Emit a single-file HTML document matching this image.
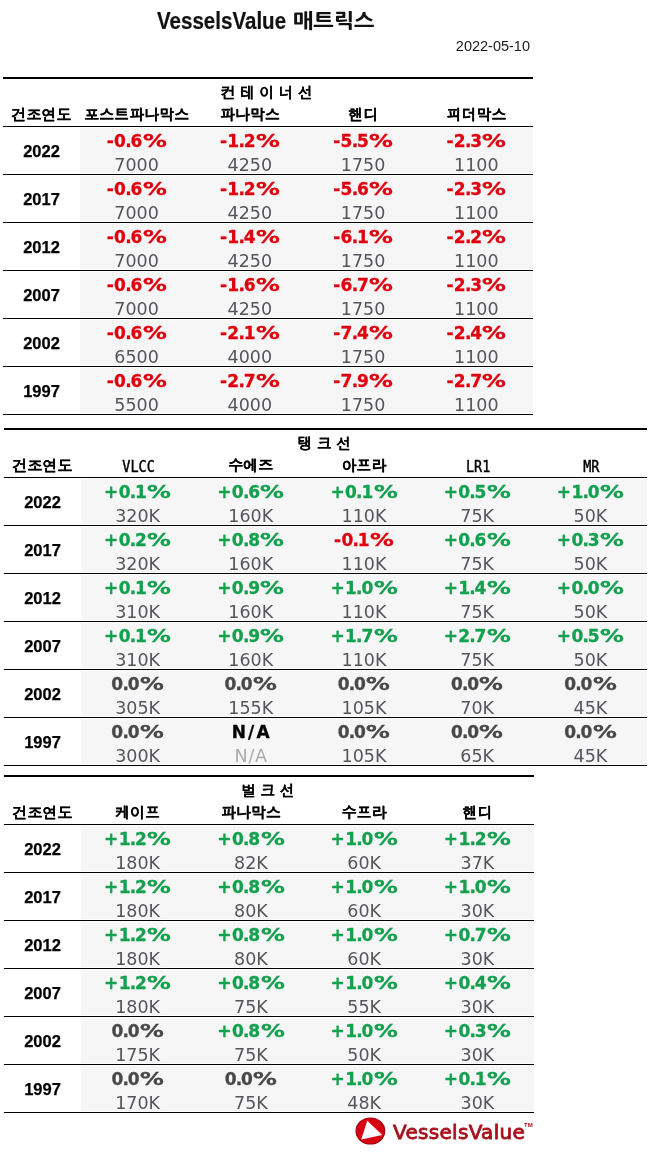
<!DOCTYPE html>
<html><head><meta charset="utf-8"><title>VesselsValue 매트릭스</title>
<style>
html,body{margin:0;padding:0;background:#fff;}
body{width:650px;height:1152px;position:relative;overflow:hidden;}
.title{position:absolute;left:0;top:6px;width:650px;height:30px;white-space:nowrap;color:#111;}
.title .l{position:absolute;left:157px;top:0;font:bold 23px/30px "Liberation Sans",sans-serif;transform:scaleX(0.893);transform-origin:0 0;-webkit-text-stroke:0.2px #111;}
.title .k{position:absolute;left:293px;top:0;transform:scaleX(1.085);transform-origin:0 0;font:800 20px/30px "NanumGothic","Noto Sans CJK KR",sans-serif;}
.date{position:absolute;right:120px;top:38px;font:14.5px/16px "Liberation Sans",sans-serif;color:#1a1a1a;}
.sec{position:absolute;height:338px;}
.thick{position:absolute;left:0;right:0;top:0;height:2px;background:#000;}
.stitle{position:absolute;left:2px;right:0;top:5px;text-align:center;font:bold 15px/20px "Dotum","NanumGothic","Noto Sans CJK KR",sans-serif;color:#000;-webkit-text-stroke:0.1px #000;}
.hrow{position:absolute;left:0;right:0;top:27px;height:20px;display:flex;font:bold 15px/20px "Dotum","NanumGothic","Noto Sans CJK KR",sans-serif;color:#000;-webkit-text-stroke:0.2px #000;}
.hy{width:77px;text-align:center;}
.lat{display:inline-block;position:relative;left:1px;font:13.5px/20px "DejaVu Sans Mono",monospace;transform:scaleY(1.22);-webkit-text-stroke:0.4px #000;}
.hc{text-align:center;}
.hline{position:absolute;left:0;right:0;top:49px;height:1px;background:#000;}
.row{position:absolute;left:0;right:0;height:48px;}
.yr{position:absolute;left:0;width:77px;top:2.5px;height:45px;text-align:center;font:bold 16.5px/45px "Liberation Sans",sans-serif;color:#000;-webkit-text-stroke:0.25px #000;}
.gray{position:absolute;left:77px;top:2px;height:45px;background:#f6f6f6;}
.cell{position:absolute;top:0;height:48px;text-align:center;}
.p{position:absolute;left:0;right:0;top:6px;font:bold 17px/18px "DejaVu Sans",sans-serif;letter-spacing:0.4px;-webkit-text-stroke:0.3px currentColor;}
.p .d{margin:0 -1.6px 0 -1.2px;}
.p .pc{display:inline-block;transform:scaleX(1.4);transform-origin:0 0;margin-right:6.5px;}
.v{position:absolute;left:0;right:0;top:29.5px;font:17.5px/18px "DejaVu Sans",sans-serif;}
.rline{position:absolute;left:0;right:0;top:48px;height:1px;background:#000;}
.logo{position:absolute;left:355px;top:1117px;width:180px;height:30px;}
.lt{position:absolute;left:38px;top:0;font:20px/30px "DejaVu Sans",sans-serif;color:#a8121c;-webkit-text-stroke:0.85px #a8121c;letter-spacing:0.3px;white-space:nowrap;}
.tm{position:absolute;left:169px;top:4px;font:bold 6px/8px "Liberation Sans",sans-serif;color:#a8121c;}
</style></head><body>
<div class="title"><span class="l">VesselsValue</span> <span class="k">매트릭스</span></div>
<div class="date">2022-05-10</div>
<div class="sec" style="left:3px;top:77px;width:530px">
<div class="thick"></div>
<div class="stitle" style="letter-spacing:4.2px">컨테이너선</div>
<div class="hrow"><div class="hy">건조연도</div><div class="hc" style="width:113.25px">포스트파나막스</div><div class="hc" style="width:113.25px">파나막스</div><div class="hc" style="width:113.25px">핸디</div><div class="hc" style="width:113.25px">피더막스</div></div>
<div class="hline"></div>
<div class="row" style="top:49px">
<div class="yr">2022</div>
<div class="gray" style="width:453px"></div>
<div class="cell" style="left:77px;width:113.25px"><div class="p" style="color:#e0000e">-0<span class="d">.</span>6<span class="pc">%</span></div><div class="v" style="color:#55555c">7000</div></div>
<div class="cell" style="left:190.25px;width:113.25px"><div class="p" style="color:#e0000e">-1<span class="d">.</span>2<span class="pc">%</span></div><div class="v" style="color:#55555c">4250</div></div>
<div class="cell" style="left:303.5px;width:113.25px"><div class="p" style="color:#e0000e">-5<span class="d">.</span>5<span class="pc">%</span></div><div class="v" style="color:#55555c">1750</div></div>
<div class="cell" style="left:416.75px;width:113.25px"><div class="p" style="color:#e0000e">-2<span class="d">.</span>3<span class="pc">%</span></div><div class="v" style="color:#55555c">1100</div></div>
<div class="rline"></div>
</div>
<div class="row" style="top:97px">
<div class="yr">2017</div>
<div class="gray" style="width:453px"></div>
<div class="cell" style="left:77px;width:113.25px"><div class="p" style="color:#e0000e">-0<span class="d">.</span>6<span class="pc">%</span></div><div class="v" style="color:#55555c">7000</div></div>
<div class="cell" style="left:190.25px;width:113.25px"><div class="p" style="color:#e0000e">-1<span class="d">.</span>2<span class="pc">%</span></div><div class="v" style="color:#55555c">4250</div></div>
<div class="cell" style="left:303.5px;width:113.25px"><div class="p" style="color:#e0000e">-5<span class="d">.</span>6<span class="pc">%</span></div><div class="v" style="color:#55555c">1750</div></div>
<div class="cell" style="left:416.75px;width:113.25px"><div class="p" style="color:#e0000e">-2<span class="d">.</span>3<span class="pc">%</span></div><div class="v" style="color:#55555c">1100</div></div>
<div class="rline"></div>
</div>
<div class="row" style="top:145px">
<div class="yr">2012</div>
<div class="gray" style="width:453px"></div>
<div class="cell" style="left:77px;width:113.25px"><div class="p" style="color:#e0000e">-0<span class="d">.</span>6<span class="pc">%</span></div><div class="v" style="color:#55555c">7000</div></div>
<div class="cell" style="left:190.25px;width:113.25px"><div class="p" style="color:#e0000e">-1<span class="d">.</span>4<span class="pc">%</span></div><div class="v" style="color:#55555c">4250</div></div>
<div class="cell" style="left:303.5px;width:113.25px"><div class="p" style="color:#e0000e">-6<span class="d">.</span>1<span class="pc">%</span></div><div class="v" style="color:#55555c">1750</div></div>
<div class="cell" style="left:416.75px;width:113.25px"><div class="p" style="color:#e0000e">-2<span class="d">.</span>2<span class="pc">%</span></div><div class="v" style="color:#55555c">1100</div></div>
<div class="rline"></div>
</div>
<div class="row" style="top:193px">
<div class="yr">2007</div>
<div class="gray" style="width:453px"></div>
<div class="cell" style="left:77px;width:113.25px"><div class="p" style="color:#e0000e">-0<span class="d">.</span>6<span class="pc">%</span></div><div class="v" style="color:#55555c">7000</div></div>
<div class="cell" style="left:190.25px;width:113.25px"><div class="p" style="color:#e0000e">-1<span class="d">.</span>6<span class="pc">%</span></div><div class="v" style="color:#55555c">4250</div></div>
<div class="cell" style="left:303.5px;width:113.25px"><div class="p" style="color:#e0000e">-6<span class="d">.</span>7<span class="pc">%</span></div><div class="v" style="color:#55555c">1750</div></div>
<div class="cell" style="left:416.75px;width:113.25px"><div class="p" style="color:#e0000e">-2<span class="d">.</span>3<span class="pc">%</span></div><div class="v" style="color:#55555c">1100</div></div>
<div class="rline"></div>
</div>
<div class="row" style="top:241px">
<div class="yr">2002</div>
<div class="gray" style="width:453px"></div>
<div class="cell" style="left:77px;width:113.25px"><div class="p" style="color:#e0000e">-0<span class="d">.</span>6<span class="pc">%</span></div><div class="v" style="color:#55555c">6500</div></div>
<div class="cell" style="left:190.25px;width:113.25px"><div class="p" style="color:#e0000e">-2<span class="d">.</span>1<span class="pc">%</span></div><div class="v" style="color:#55555c">4000</div></div>
<div class="cell" style="left:303.5px;width:113.25px"><div class="p" style="color:#e0000e">-7<span class="d">.</span>4<span class="pc">%</span></div><div class="v" style="color:#55555c">1750</div></div>
<div class="cell" style="left:416.75px;width:113.25px"><div class="p" style="color:#e0000e">-2<span class="d">.</span>4<span class="pc">%</span></div><div class="v" style="color:#55555c">1100</div></div>
<div class="rline"></div>
</div>
<div class="row" style="top:289px">
<div class="yr">1997</div>
<div class="gray" style="width:453px"></div>
<div class="cell" style="left:77px;width:113.25px"><div class="p" style="color:#e0000e">-0<span class="d">.</span>6<span class="pc">%</span></div><div class="v" style="color:#55555c">5500</div></div>
<div class="cell" style="left:190.25px;width:113.25px"><div class="p" style="color:#e0000e">-2<span class="d">.</span>7<span class="pc">%</span></div><div class="v" style="color:#55555c">4000</div></div>
<div class="cell" style="left:303.5px;width:113.25px"><div class="p" style="color:#e0000e">-7<span class="d">.</span>9<span class="pc">%</span></div><div class="v" style="color:#55555c">1750</div></div>
<div class="cell" style="left:416.75px;width:113.25px"><div class="p" style="color:#e0000e">-2<span class="d">.</span>7<span class="pc">%</span></div><div class="v" style="color:#55555c">1100</div></div>
<div class="rline"></div>
</div>
</div>
<div class="sec" style="left:4px;top:428px;width:643px">
<div class="thick"></div>
<div class="stitle" style="letter-spacing:4.2px">탱크선</div>
<div class="hrow"><div class="hy">건조연도</div><div class="hc" style="width:113.2px"><span class="lat">VLCC</span></div><div class="hc" style="width:113.2px">수에즈</div><div class="hc" style="width:113.2px">아프라</div><div class="hc" style="width:113.2px"><span class="lat">LR1</span></div><div class="hc" style="width:113.2px"><span class="lat">MR</span></div></div>
<div class="hline"></div>
<div class="row" style="top:49px">
<div class="yr">2022</div>
<div class="gray" style="width:566px"></div>
<div class="cell" style="left:77px;width:113.2px"><div class="p" style="color:#13a04f">+0<span class="d">.</span>1<span class="pc">%</span></div><div class="v" style="color:#55555c">320K</div></div>
<div class="cell" style="left:190.2px;width:113.2px"><div class="p" style="color:#13a04f">+0<span class="d">.</span>6<span class="pc">%</span></div><div class="v" style="color:#55555c">160K</div></div>
<div class="cell" style="left:303.4px;width:113.2px"><div class="p" style="color:#13a04f">+0<span class="d">.</span>1<span class="pc">%</span></div><div class="v" style="color:#55555c">110K</div></div>
<div class="cell" style="left:416.6px;width:113.2px"><div class="p" style="color:#13a04f">+0<span class="d">.</span>5<span class="pc">%</span></div><div class="v" style="color:#55555c">75K</div></div>
<div class="cell" style="left:529.8px;width:113.2px"><div class="p" style="color:#13a04f">+1<span class="d">.</span>0<span class="pc">%</span></div><div class="v" style="color:#55555c">50K</div></div>
<div class="rline"></div>
</div>
<div class="row" style="top:97px">
<div class="yr">2017</div>
<div class="gray" style="width:566px"></div>
<div class="cell" style="left:77px;width:113.2px"><div class="p" style="color:#13a04f">+0<span class="d">.</span>2<span class="pc">%</span></div><div class="v" style="color:#55555c">320K</div></div>
<div class="cell" style="left:190.2px;width:113.2px"><div class="p" style="color:#13a04f">+0<span class="d">.</span>8<span class="pc">%</span></div><div class="v" style="color:#55555c">160K</div></div>
<div class="cell" style="left:303.4px;width:113.2px"><div class="p" style="color:#e0000e">-0<span class="d">.</span>1<span class="pc">%</span></div><div class="v" style="color:#55555c">110K</div></div>
<div class="cell" style="left:416.6px;width:113.2px"><div class="p" style="color:#13a04f">+0<span class="d">.</span>6<span class="pc">%</span></div><div class="v" style="color:#55555c">75K</div></div>
<div class="cell" style="left:529.8px;width:113.2px"><div class="p" style="color:#13a04f">+0<span class="d">.</span>3<span class="pc">%</span></div><div class="v" style="color:#55555c">50K</div></div>
<div class="rline"></div>
</div>
<div class="row" style="top:145px">
<div class="yr">2012</div>
<div class="gray" style="width:566px"></div>
<div class="cell" style="left:77px;width:113.2px"><div class="p" style="color:#13a04f">+0<span class="d">.</span>1<span class="pc">%</span></div><div class="v" style="color:#55555c">310K</div></div>
<div class="cell" style="left:190.2px;width:113.2px"><div class="p" style="color:#13a04f">+0<span class="d">.</span>9<span class="pc">%</span></div><div class="v" style="color:#55555c">160K</div></div>
<div class="cell" style="left:303.4px;width:113.2px"><div class="p" style="color:#13a04f">+1<span class="d">.</span>0<span class="pc">%</span></div><div class="v" style="color:#55555c">110K</div></div>
<div class="cell" style="left:416.6px;width:113.2px"><div class="p" style="color:#13a04f">+1<span class="d">.</span>4<span class="pc">%</span></div><div class="v" style="color:#55555c">75K</div></div>
<div class="cell" style="left:529.8px;width:113.2px"><div class="p" style="color:#13a04f">+0<span class="d">.</span>0<span class="pc">%</span></div><div class="v" style="color:#55555c">50K</div></div>
<div class="rline"></div>
</div>
<div class="row" style="top:193px">
<div class="yr">2007</div>
<div class="gray" style="width:566px"></div>
<div class="cell" style="left:77px;width:113.2px"><div class="p" style="color:#13a04f">+0<span class="d">.</span>1<span class="pc">%</span></div><div class="v" style="color:#55555c">310K</div></div>
<div class="cell" style="left:190.2px;width:113.2px"><div class="p" style="color:#13a04f">+0<span class="d">.</span>9<span class="pc">%</span></div><div class="v" style="color:#55555c">160K</div></div>
<div class="cell" style="left:303.4px;width:113.2px"><div class="p" style="color:#13a04f">+1<span class="d">.</span>7<span class="pc">%</span></div><div class="v" style="color:#55555c">110K</div></div>
<div class="cell" style="left:416.6px;width:113.2px"><div class="p" style="color:#13a04f">+2<span class="d">.</span>7<span class="pc">%</span></div><div class="v" style="color:#55555c">75K</div></div>
<div class="cell" style="left:529.8px;width:113.2px"><div class="p" style="color:#13a04f">+0<span class="d">.</span>5<span class="pc">%</span></div><div class="v" style="color:#55555c">50K</div></div>
<div class="rline"></div>
</div>
<div class="row" style="top:241px">
<div class="yr">2002</div>
<div class="gray" style="width:566px"></div>
<div class="cell" style="left:77px;width:113.2px"><div class="p" style="color:#484848">0<span class="d">.</span>0<span class="pc">%</span></div><div class="v" style="color:#55555c">305K</div></div>
<div class="cell" style="left:190.2px;width:113.2px"><div class="p" style="color:#484848">0<span class="d">.</span>0<span class="pc">%</span></div><div class="v" style="color:#55555c">155K</div></div>
<div class="cell" style="left:303.4px;width:113.2px"><div class="p" style="color:#484848">0<span class="d">.</span>0<span class="pc">%</span></div><div class="v" style="color:#55555c">105K</div></div>
<div class="cell" style="left:416.6px;width:113.2px"><div class="p" style="color:#484848">0<span class="d">.</span>0<span class="pc">%</span></div><div class="v" style="color:#55555c">70K</div></div>
<div class="cell" style="left:529.8px;width:113.2px"><div class="p" style="color:#484848">0<span class="d">.</span>0<span class="pc">%</span></div><div class="v" style="color:#55555c">45K</div></div>
<div class="rline"></div>
</div>
<div class="row" style="top:289px">
<div class="yr">1997</div>
<div class="gray" style="width:566px"></div>
<div class="cell" style="left:77px;width:113.2px"><div class="p" style="color:#484848">0<span class="d">.</span>0<span class="pc">%</span></div><div class="v" style="color:#55555c">300K</div></div>
<div class="cell" style="left:190.2px;width:113.2px"><div class="p" style="color:#000;letter-spacing:2.2px;padding-left:2px">N/A</div><div class="v" style="color:#aaaaaa;letter-spacing:0.7px;padding-left:0.7px">N/A</div></div>
<div class="cell" style="left:303.4px;width:113.2px"><div class="p" style="color:#484848">0<span class="d">.</span>0<span class="pc">%</span></div><div class="v" style="color:#55555c">105K</div></div>
<div class="cell" style="left:416.6px;width:113.2px"><div class="p" style="color:#484848">0<span class="d">.</span>0<span class="pc">%</span></div><div class="v" style="color:#55555c">65K</div></div>
<div class="cell" style="left:529.8px;width:113.2px"><div class="p" style="color:#484848">0<span class="d">.</span>0<span class="pc">%</span></div><div class="v" style="color:#55555c">45K</div></div>
<div class="rline"></div>
</div>
</div>
<div class="sec" style="left:4px;top:775px;width:530px">
<div class="thick"></div>
<div class="stitle" style="letter-spacing:4.2px">벌크선</div>
<div class="hrow"><div class="hy">건조연도</div><div class="hc" style="width:113.25px">케이프</div><div class="hc" style="width:113.25px">파나막스</div><div class="hc" style="width:113.25px">수프라</div><div class="hc" style="width:113.25px">핸디</div></div>
<div class="hline"></div>
<div class="row" style="top:49px">
<div class="yr">2022</div>
<div class="gray" style="width:453px"></div>
<div class="cell" style="left:77px;width:113.25px"><div class="p" style="color:#13a04f">+1<span class="d">.</span>2<span class="pc">%</span></div><div class="v" style="color:#55555c">180K</div></div>
<div class="cell" style="left:190.25px;width:113.25px"><div class="p" style="color:#13a04f">+0<span class="d">.</span>8<span class="pc">%</span></div><div class="v" style="color:#55555c">82K</div></div>
<div class="cell" style="left:303.5px;width:113.25px"><div class="p" style="color:#13a04f">+1<span class="d">.</span>0<span class="pc">%</span></div><div class="v" style="color:#55555c">60K</div></div>
<div class="cell" style="left:416.75px;width:113.25px"><div class="p" style="color:#13a04f">+1<span class="d">.</span>2<span class="pc">%</span></div><div class="v" style="color:#55555c">37K</div></div>
<div class="rline"></div>
</div>
<div class="row" style="top:97px">
<div class="yr">2017</div>
<div class="gray" style="width:453px"></div>
<div class="cell" style="left:77px;width:113.25px"><div class="p" style="color:#13a04f">+1<span class="d">.</span>2<span class="pc">%</span></div><div class="v" style="color:#55555c">180K</div></div>
<div class="cell" style="left:190.25px;width:113.25px"><div class="p" style="color:#13a04f">+0<span class="d">.</span>8<span class="pc">%</span></div><div class="v" style="color:#55555c">80K</div></div>
<div class="cell" style="left:303.5px;width:113.25px"><div class="p" style="color:#13a04f">+1<span class="d">.</span>0<span class="pc">%</span></div><div class="v" style="color:#55555c">60K</div></div>
<div class="cell" style="left:416.75px;width:113.25px"><div class="p" style="color:#13a04f">+1<span class="d">.</span>0<span class="pc">%</span></div><div class="v" style="color:#55555c">30K</div></div>
<div class="rline"></div>
</div>
<div class="row" style="top:145px">
<div class="yr">2012</div>
<div class="gray" style="width:453px"></div>
<div class="cell" style="left:77px;width:113.25px"><div class="p" style="color:#13a04f">+1<span class="d">.</span>2<span class="pc">%</span></div><div class="v" style="color:#55555c">180K</div></div>
<div class="cell" style="left:190.25px;width:113.25px"><div class="p" style="color:#13a04f">+0<span class="d">.</span>8<span class="pc">%</span></div><div class="v" style="color:#55555c">80K</div></div>
<div class="cell" style="left:303.5px;width:113.25px"><div class="p" style="color:#13a04f">+1<span class="d">.</span>0<span class="pc">%</span></div><div class="v" style="color:#55555c">60K</div></div>
<div class="cell" style="left:416.75px;width:113.25px"><div class="p" style="color:#13a04f">+0<span class="d">.</span>7<span class="pc">%</span></div><div class="v" style="color:#55555c">30K</div></div>
<div class="rline"></div>
</div>
<div class="row" style="top:193px">
<div class="yr">2007</div>
<div class="gray" style="width:453px"></div>
<div class="cell" style="left:77px;width:113.25px"><div class="p" style="color:#13a04f">+1<span class="d">.</span>2<span class="pc">%</span></div><div class="v" style="color:#55555c">180K</div></div>
<div class="cell" style="left:190.25px;width:113.25px"><div class="p" style="color:#13a04f">+0<span class="d">.</span>8<span class="pc">%</span></div><div class="v" style="color:#55555c">75K</div></div>
<div class="cell" style="left:303.5px;width:113.25px"><div class="p" style="color:#13a04f">+1<span class="d">.</span>0<span class="pc">%</span></div><div class="v" style="color:#55555c">55K</div></div>
<div class="cell" style="left:416.75px;width:113.25px"><div class="p" style="color:#13a04f">+0<span class="d">.</span>4<span class="pc">%</span></div><div class="v" style="color:#55555c">30K</div></div>
<div class="rline"></div>
</div>
<div class="row" style="top:241px">
<div class="yr">2002</div>
<div class="gray" style="width:453px"></div>
<div class="cell" style="left:77px;width:113.25px"><div class="p" style="color:#484848">0<span class="d">.</span>0<span class="pc">%</span></div><div class="v" style="color:#55555c">175K</div></div>
<div class="cell" style="left:190.25px;width:113.25px"><div class="p" style="color:#13a04f">+0<span class="d">.</span>8<span class="pc">%</span></div><div class="v" style="color:#55555c">75K</div></div>
<div class="cell" style="left:303.5px;width:113.25px"><div class="p" style="color:#13a04f">+1<span class="d">.</span>0<span class="pc">%</span></div><div class="v" style="color:#55555c">50K</div></div>
<div class="cell" style="left:416.75px;width:113.25px"><div class="p" style="color:#13a04f">+0<span class="d">.</span>3<span class="pc">%</span></div><div class="v" style="color:#55555c">30K</div></div>
<div class="rline"></div>
</div>
<div class="row" style="top:289px">
<div class="yr">1997</div>
<div class="gray" style="width:453px"></div>
<div class="cell" style="left:77px;width:113.25px"><div class="p" style="color:#484848">0<span class="d">.</span>0<span class="pc">%</span></div><div class="v" style="color:#55555c">170K</div></div>
<div class="cell" style="left:190.25px;width:113.25px"><div class="p" style="color:#484848">0<span class="d">.</span>0<span class="pc">%</span></div><div class="v" style="color:#55555c">75K</div></div>
<div class="cell" style="left:303.5px;width:113.25px"><div class="p" style="color:#13a04f">+1<span class="d">.</span>0<span class="pc">%</span></div><div class="v" style="color:#55555c">48K</div></div>
<div class="cell" style="left:416.75px;width:113.25px"><div class="p" style="color:#13a04f">+0<span class="d">.</span>1<span class="pc">%</span></div><div class="v" style="color:#55555c">30K</div></div>
<div class="rline"></div>
</div>
</div>
<div class="logo">
<svg width="32" height="30" viewBox="0 0 32 30" style="position:absolute;left:0;top:0"><ellipse cx="15.4" cy="14" rx="14.3" ry="13" fill="#d90012" stroke="#a8000b" stroke-width="1.2"/><polygon points="12.3,3.8 27.3,18 6.2,22.6" fill="#fff"/></svg>
<div class="lt">VesselsValue</div><div class="tm">TM</div>
</div>
</body></html>
